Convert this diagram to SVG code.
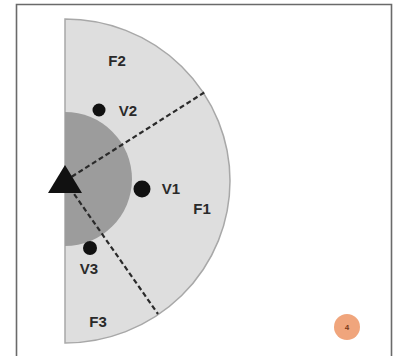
<svg xmlns="http://www.w3.org/2000/svg" width="398" height="356" viewBox="0 0 398 356">
<style>
.lbl{font-family:"Liberation Sans",Arial,sans-serif;font-weight:bold;font-size:15px;fill:#2a2a2a;text-anchor:middle;dominant-baseline:central}
.dash{stroke:#2a2a2a;stroke-width:2.2;stroke-dasharray:5 3;fill:none}
.dot{fill:#111}
</style>
<rect x="0" y="0" width="398" height="356" fill="#fff"/>
<path d="M16.5 360 V4.5 H391.5 V360" fill="none" stroke="#6a6a6a" stroke-width="1.6"/>
<g id="field">
<path d="M65 19 A165 162 0 0 1 65 343 Z" fill="#dedede" stroke="#a8a8a8" stroke-width="1.5"/>
<path d="M65 112 A67 67 0 0 1 65 246 Z" fill="#9c9c9c"/>
</g>
<g id="connectors">
<line class="dash" x1="65" y1="181" x2="205" y2="92"/>
<line class="dash" x1="65" y1="181" x2="158" y2="314"/>
</g>
<g id="origin"><polygon points="65,165 48,193 82,193" fill="#111"/></g>
<g id="V1"><circle class="dot" cx="142" cy="189" r="8.5"/><text class="lbl" x="171" y="188">V1</text></g>
<g id="V2"><circle class="dot" cx="99" cy="110" r="6.5"/><text class="lbl" x="128" y="110">V2</text></g>
<g id="V3"><circle class="dot" cx="90" cy="248" r="7"/><text class="lbl" x="89" y="268">V3</text></g>
<g id="F1"><text class="lbl" x="202" y="208">F1</text></g>
<g id="F2"><text class="lbl" x="117" y="60">F2</text></g>
<g id="F3"><text class="lbl" x="98" y="321">F3</text></g>
<g id="badge"><circle cx="347" cy="327" r="13" fill="#f0a57c"/><text x="347" y="330" font-family="Liberation Sans,Arial,sans-serif" font-size="8" font-weight="bold" fill="#7a3a1a" text-anchor="middle">4</text></g>
</svg>
